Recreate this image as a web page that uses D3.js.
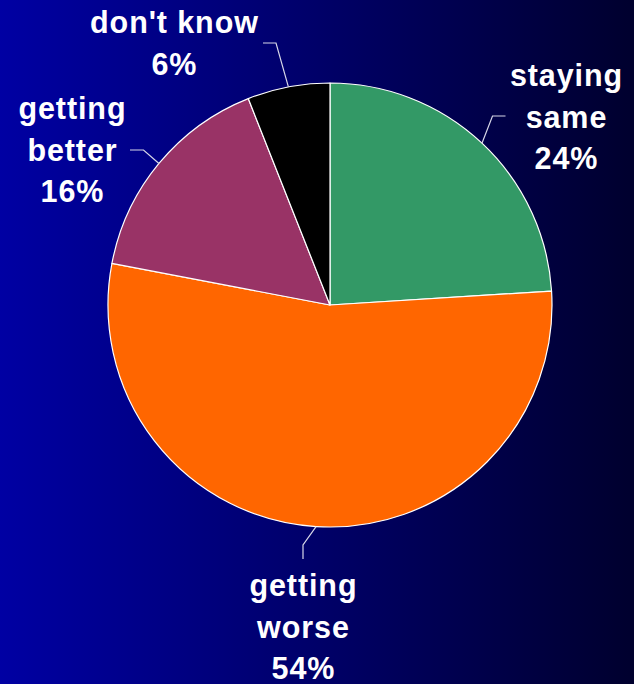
<!DOCTYPE html>
<html>
<head>
<meta charset="utf-8">
<script src="https://cdn.jsdelivr.net/npm/d3@7"></script>
<style>
  html, body { margin: 0; padding: 0; background: #000060; }
  svg { display: block; }
</style>
</head>
<body>
<svg id="chart" width="634" height="684"></svg>
<script>
// Survey answers, in drawing order clockwise from 12 o'clock
const categories = ["staying same", "getting worse", "getting better", "don't know"];
const values = [24, 54, 16, 6];
const labelLines = [
  ["staying", "same", "24%"],
  ["getting", "worse", "54%"],
  ["getting", "better", "16%"],
  ["don't know", "6%"]
];
const colors = ["#339966", "#ff6600", "#993366", "#000000"];

// Label placement: text centre x, first baseline, leader elbow and leader end
const labelLayout = [
  { x: 566, y: 86, elbow: [492.5, 116], end: [505.5, 116] },
  { x: 303, y: 596, elbow: [303, 545], end: [303, 559] },
  { x: 72, y: 119, elbow: [143.5, 150], end: [130, 150] },
  { x: 174, y: 33, elbow: [276, 43], end: [263, 43] }
];

const W = 634, H = 684;
const cx = 330, cy = 305, R = 222;
const lineGap = 41.5;

const svg = d3.select("#chart");

// Background: horizontal fade from royal blue to near-black navy
const defs = svg.append("defs");
const grad = defs.append("linearGradient")
  .attr("id", "bg").attr("x1", "0").attr("y1", "0").attr("x2", "1").attr("y2", "0");
grad.append("stop").attr("offset", "0%").attr("stop-color", "#0000a3");
grad.append("stop").attr("offset", "100%").attr("stop-color", "#00002e");
svg.append("rect").attr("width", W).attr("height", H).attr("fill", "url(#bg)");

const data = categories.map((c, i) => ({ category: c, value: values[i], i }));

const pie = d3.pie().value(d => d.value).sort(null);
const arc = d3.arc().innerRadius(0).outerRadius(R);
const arcs = pie(data);

const g = svg.append("g").attr("transform", `translate(${cx},${cy})`);

g.selectAll("path.slice")
  .data(arcs)
  .join("path")
  .attr("class", "slice")
  .attr("d", arc)
  .attr("fill", d => colors[d.data.i])
  .attr("stroke", "#ffffff")
  .attr("stroke-width", 1.2)
  .attr("stroke-linejoin", "round");

// Leader lines from the rim at each slice's mid-angle
svg.selectAll("polyline.leader")
  .data(arcs)
  .join("polyline")
  .attr("class", "leader")
  .attr("fill", "none")
  .attr("stroke", "#d8d8e8")
  .attr("stroke-width", 1.2)
  .attr("points", d => {
    const a = (d.startAngle + d.endAngle) / 2;
    const sx = cx + R * Math.sin(a), sy = cy - R * Math.cos(a);
    const L = labelLayout[d.data.i];
    return [[sx, sy], L.elbow, L.end].map(p => p.join(",")).join(" ");
  });

// Category labels
const labels = svg.selectAll("text.label")
  .data(arcs)
  .join("text")
  .attr("class", "label")
  .attr("text-anchor", "middle")
  .attr("fill", "#ffffff")
  .attr("font-family", "'Liberation Sans', Arial, sans-serif")
  .attr("font-weight", "bold")
  .attr("font-size", 30.5)
  .attr("letter-spacing", 0.9);

labels.selectAll("tspan")
  .data(d => labelLines[d.data.i].map(t => ({ t, L: labelLayout[d.data.i] })))
  .join("tspan")
  .attr("x", d => d.L.x + 0.45)
  .attr("y", (d, k) => d.L.y + k * lineGap)
  .text(d => d.t);
</script>
</body>
</html>
